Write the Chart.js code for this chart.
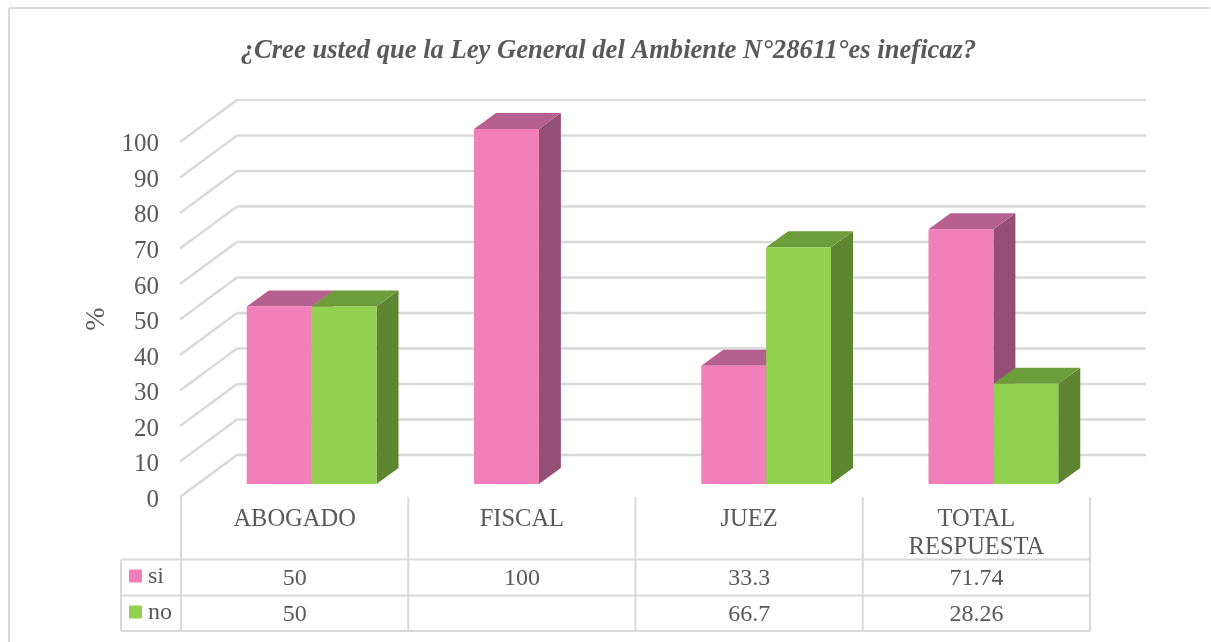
<!DOCTYPE html>
<html>
<head>
<meta charset="utf-8">
<script src="https://cdn.jsdelivr.net/npm/chart.js@4"></script>
<style>
  html, body { margin: 0; background: #fff; }
  #wrap { width: 1211px; height: 642px; }
</style>
</head>
<body>
<div id="wrap"><canvas id="leyChart" width="1211" height="642"></canvas></div>
<script>
const categories = ['ABOGADO', 'FISCAL', 'JUEZ', ['TOTAL', 'RESPUESTA']];
const si = [50, 100, 33.3, 71.74];
const no = [50, null, 66.7, 28.26];
const siLabels = ['50', '100', '33.3', '71.74'];
const noLabels = ['50', '', '66.7', '28.26'];
const yTicks = [0, 100, 10];

const textColor = '#595959';
const lineColor = '#D9D9D9';
const serif = '"Liberation Serif", serif';

const faces = [
  { front: '#F07FBA', top: '#B5608F', side: '#954F77' },
  { front: '#91D14F', top: '#6D9D3B', side: '#5E8530' }
];

function line(ctx, x1, y1, x2, y2) {
  ctx.beginPath();
  ctx.moveTo(x1, y1);
  ctx.lineTo(x2, y2);
  ctx.stroke();
}

// back wall, floor diagonals and the depth faces of the columns
const wallAndDepth = {
  id: 'wallAndDepth',
  beforeDatasetsDraw(chart) {
    const { ctx, chartArea, scales } = chart;
    ctx.save();
    ctx.strokeStyle = lineColor;
    ctx.lineWidth = 2.4;
    scales.y.ticks.forEach(t => {
      const py = scales.y.getPixelForValue(t.value);
      line(ctx, chartArea.left - 18, py + 13, chartArea.left + 39, py - 29);
      line(ctx, chartArea.left + 39, py - 29, chartArea.right + 39, py - 29);
    });
    const dx = 22, dy = 16;
    chart.data.datasets.forEach((ds, d) => {
      chart.getDatasetMeta(d).data.forEach((bar, i) => {
        if (ds.data[i] == null) return;
        const l = bar.x - bar.width / 2, r = bar.x + bar.width / 2;
        ctx.fillStyle = faces[d].side;
        ctx.beginPath();
        ctx.moveTo(r, bar.y);
        ctx.lineTo(r + dx, bar.y - dy);
        ctx.lineTo(r + dx, bar.base - dy);
        ctx.lineTo(r, bar.base);
        ctx.fill();
        ctx.fillStyle = faces[d].top;
        ctx.beginPath();
        ctx.moveTo(l, bar.y);
        ctx.lineTo(l + dx, bar.y - dy);
        ctx.lineTo(r + dx, bar.y - dy);
        ctx.lineTo(r, bar.y);
        ctx.fill();
      });
    });
    ctx.restore();
  }
};

// data table under the plot, lined up on the category ticks
const dataTable = {
  id: 'dataTable',
  afterDraw(chart) {
    const { ctx, scales } = chart;
    const shift = 17, keyLeft = 121;
    const rows = [559.5, 595.5, 631];
    const step = scales.x.getPixelForTick(1) - scales.x.getPixelForTick(0);
    const edges = categories.map((c, i) => scales.x.getPixelForTick(i) - shift - step / 2);
    edges.push(edges[edges.length - 1] + step);

    ctx.save();
    ctx.strokeStyle = lineColor;
    ctx.lineWidth = 2;
    edges.forEach(x => line(ctx, x, 497, x, rows[2]));
    line(ctx, keyLeft, rows[0], keyLeft, rows[2]);
    rows.forEach(y => line(ctx, keyLeft, y, edges[edges.length - 1], y));

    ctx.font = '24px ' + serif;
    ctx.fillStyle = textColor;
    ctx.textBaseline = 'middle';
    [siLabels, noLabels].forEach((vals, r) => {
      const mid = (rows[r] + rows[r + 1]) / 2;
      ctx.textAlign = 'center';
      vals.forEach((v, i) => ctx.fillText(v, (edges[i] + edges[i + 1]) / 2, mid + 1));
      ctx.textAlign = 'left';
      ctx.fillText(chart.data.datasets[r].label, 148, mid - 1);
    });
    faces.forEach((f, r) => {
      ctx.fillStyle = f.front;
      ctx.fillRect(129, rows[r] + 10, 13, 13);
    });

    // axis name sits lower than the plot centre, so it is placed by hand
    ctx.font = '28px ' + serif;
    ctx.fillStyle = textColor;
    ctx.textAlign = 'center';
    ctx.translate(97, 319);
    ctx.rotate(-Math.PI / 2);
    ctx.fillText('%', 0, 0);
    ctx.restore();
  }
};

// only the top and left edges of the pasted chart's frame are in the shot
const frame = {
  id: 'frame',
  beforeDraw(chart) {
    const { ctx, width, height } = chart;
    ctx.save();
    ctx.strokeStyle = lineColor;
    ctx.lineWidth = 2;
    line(ctx, 9, 8, width - 1, 8);
    line(ctx, 9, 8, 9, height);
    ctx.restore();
  }
};

new Chart(document.getElementById('leyChart'), {
  type: 'bar',
  data: {
    labels: categories,
    datasets: [
      { label: 'si', data: si, backgroundColor: faces[0].front },
      { label: 'no', data: no, backgroundColor: faces[1].front }
    ]
  },
  options: {
    responsive: false,
    animation: false,
    layout: { padding: { left: 6, top: 35 } },
    datasets: { bar: { categoryPercentage: 0.571, barPercentage: 1 } },
    plugins: {
      legend: { display: false },
      tooltip: { enabled: false },
      title: {
        display: true,
        text: '¿Cree usted que la Ley General del Ambiente N°28611°es ineficaz?',
        color: textColor,
        font: { family: serif, size: 26.6, style: 'italic', weight: 'bold' },
        padding: { top: 0, bottom: 62 }
      }
    },
    scales: {
      x: {
        grid: { display: false, drawTicks: false },
        border: { display: false },
        afterFit: s => { s.height = 158; },
        ticks: {
          color: textColor,
          font: { family: serif, size: 24.5, lineHeight: 1.13 },
          labelOffset: -17,
          padding: 22,
          maxRotation: 0,
          autoSkip: false
        }
      },
      y: {
        min: yTicks[0],
        max: yTicks[1],
        afterFit: s => { s.width = 192; },
        grid: { display: false, drawTicks: false },
        border: { display: false },
        ticks: {
          stepSize: yTicks[2],
          color: textColor,
          font: { family: serif, size: 25 },
          labelOffset: 16,
          padding: 39
        }
      },
      yRight: {
        position: 'right',
        afterFit: s => { s.width = 104; },
        grid: { display: false, drawTicks: false },
        border: { display: false },
        ticks: { display: false }
      }
    }
  },
  plugins: [frame, wallAndDepth, dataTable]
});
</script>
</body>
</html>
